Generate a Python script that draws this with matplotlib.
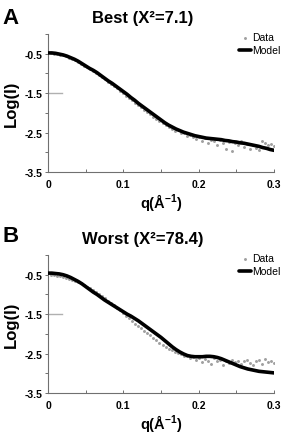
import numpy as np
import matplotlib.pyplot as plt
from matplotlib.ticker import FixedLocator, FixedFormatter

plt.rcParams['font.family'] = ['Liberation Sans', 'DejaVu Sans']
plt.rcParams['mathtext.fontset'] = 'custom'
plt.rcParams['mathtext.rm'] = 'Liberation Sans'
plt.rcParams['mathtext.bf'] = 'Liberation Sans:bold'

# model curves (q = 0.000 ... 0.300, step 0.005)
q_model = np.round(np.arange(61) * 0.005, 3)
model_best = [-0.48, -0.48, -0.49, -0.51, -0.53, -0.56, -0.60, -0.64, -0.69, -0.75,
              -0.81, -0.87, -0.92, -0.98, -1.05, -1.12, -1.19, -1.25, -1.32, -1.39,
              -1.46, -1.53, -1.61, -1.68, -1.76, -1.83, -1.90, -1.97, -2.04, -2.11,
              -2.18, -2.25, -2.31, -2.36, -2.41, -2.45, -2.49, -2.52, -2.55, -2.58,
              -2.60, -2.62, -2.64, -2.65, -2.66, -2.67, -2.68, -2.70, -2.71, -2.73,
              -2.74, -2.76, -2.77, -2.79, -2.81, -2.83, -2.85, -2.88, -2.90, -2.93,
              -2.95]
model_worst = [-0.46, -0.46, -0.47, -0.48, -0.50, -0.53, -0.57, -0.62, -0.67, -0.73,
               -0.80, -0.87, -0.94, -1.00, -1.07, -1.14, -1.20, -1.26, -1.32, -1.38,
               -1.44, -1.50, -1.55, -1.61, -1.67, -1.74, -1.81, -1.88, -1.95, -2.02,
               -2.09, -2.17, -2.25, -2.33, -2.40, -2.46, -2.51, -2.55, -2.57, -2.58,
               -2.58, -2.58, -2.57, -2.57, -2.58, -2.60, -2.63, -2.67, -2.71, -2.75,
               -2.79, -2.83, -2.86, -2.89, -2.91, -2.93, -2.95, -2.96, -2.97, -2.98,
               -2.99]

# measured data (q = 0.004 ... 0.300, step 0.004)
q_data = np.round(np.arange(1, 76) * 0.004, 3)
data_best = [-0.49, -0.50, -0.51, -0.52, -0.54, -0.57, -0.60, -0.63, -0.66, -0.70,
             -0.75, -0.80, -0.84, -0.89, -0.94, -0.99, -1.04, -1.10, -1.15, -1.21,
             -1.26, -1.32, -1.38, -1.44, -1.50, -1.56, -1.62, -1.68, -1.74, -1.80,
             -1.86, -1.92, -1.98, -2.04, -2.10, -2.16, -2.21, -2.26, -2.31, -2.35,
             -2.42, -2.47, -2.44, -2.52, -2.50, -2.58, -2.55, -2.62, -2.66, -2.60,
             -2.71, -2.65, -2.76, -2.68, -2.72, -2.81, -2.70, -2.77, -2.92, -2.74,
             -2.97, -2.76, -2.82, -2.72, -2.86, -2.78, -2.91, -2.82, -2.88, -2.94,
             -2.72, -2.76, -2.82, -2.78, -2.85]
data_worst = [-0.50, -0.51, -0.52, -0.54, -0.56, -0.58, -0.60, -0.63, -0.66, -0.69,
              -0.72, -0.76, -0.80, -0.84, -0.89, -0.94, -0.99, -1.05, -1.10, -1.16,
              -1.22, -1.28, -1.34, -1.40, -1.46, -1.55, -1.61, -1.68, -1.74, -1.80,
              -1.86, -1.92, -1.98, -2.04, -2.10, -2.16, -2.22, -2.28, -2.33, -2.38,
              -2.42, -2.46, -2.49, -2.52, -2.55,
              -2.55, -2.62, -2.58, -2.66, -2.60, -2.72, -2.64, -2.68, -2.76, -2.62,
              -2.70, -2.66, -2.78, -2.68, -2.74, -2.66, -2.72, -2.68, -2.76, -2.70,
              -2.66, -2.74, -2.80, -2.70, -2.66, -2.76, -2.64, -2.72, -2.68, -2.75]

# short gray stub at the low-q end
stub_q = [0.0, 0.019]
stub_y = [-1.5, -1.5]

panels = [("A", "Best (X²=7.1)", data_best, model_best),
          ("B", "Worst (X²=78.4)", data_worst, model_worst)]

W, H = 292, 435
fig = plt.figure(figsize=(W / 100, H / 100), dpi=100)

axes_px = [(35, 173), (256, 394)]
title_y = [19, 240]
letter_y = [18, 237]
left_px, right_px = 48, 274

yticks = [-3.5, -3.0, -2.5, -2.0, -1.5, -1.0, -0.5, 0.0]
ylabels = ["-3.5", "", "-2.5", "", "-1.5", "", "-0.5", ""]

for (letter, title, data, model), (top, bot), ty, ly in zip(panels, axes_px, title_y, letter_y):
    ax = fig.add_axes([left_px / W, 1 - bot / H, (right_px - left_px) / W, (bot - top) / H])
    ax.plot(stub_q, stub_y, color="#b0b0b0", lw=1.0)
    ax.scatter(q_data, data, s=4.5, color="#a0a0a0", lw=0, label="Data", zorder=2)
    ax.plot(q_model, model, color="black", lw=2.6, label="Model", zorder=3,
            solid_joinstyle="round", solid_capstyle="round")

    ax.set_xlim(0, 0.3)
    ax.set_ylim(-3.5, 0)
    for s in ["top", "right"]:
        ax.spines[s].set_visible(False)
    for s in ["left", "bottom"]:
        ax.spines[s].set_color("#707070")
        ax.spines[s].set_linewidth(0.8)

    ax.yaxis.set_major_locator(FixedLocator(yticks))
    ax.yaxis.set_major_formatter(FixedFormatter(ylabels))
    ax.set_xticks([0, 0.05, 0.1, 0.15, 0.2, 0.25, 0.3])
    ax.set_xticklabels(["0", "", "0.1", "", "0.2", "", "0.3"])
    ax.tick_params(axis="x", direction="in", length=2.5, width=0.7, color="#707070", pad=5)
    ax.tick_params(axis="y", direction="out", length=2, width=0.7, color="#707070", pad=2)
    for lab in ax.get_xticklabels() + ax.get_yticklabels():
        lab.set_fontsize(7.5)
        lab.set_fontweight("bold")

    ax.set_ylabel("Log(I)", fontsize=12, fontweight="bold", labelpad=4)
    ax.set_xlabel(r"q(Å$^{\mathbf{-1}}$)", fontsize=10.5, fontweight="bold", labelpad=2)

    ax.legend(loc="upper right", bbox_to_anchor=(1.05, 1.05), frameon=False,
              fontsize=7.5, handlelength=1.1, handletextpad=0.1, borderpad=0,
              labelspacing=0.3, markerscale=1.0)

    fig.text(0.49, 1 - ty / H, title, ha="center", va="center", fontsize=12, fontweight="bold")
    fig.text(0.01, 1 - ly / H, letter, ha="left", va="center", fontsize=16, fontweight="bold")

fig.savefig("out.png", dpi=100)
